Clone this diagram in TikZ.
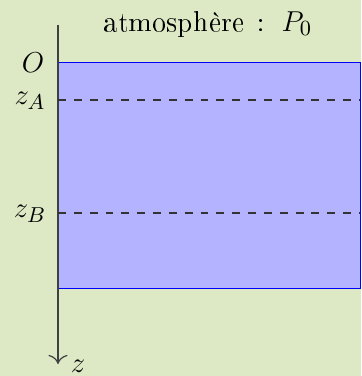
\documentclass[tikz,border=0pt]{standalone}
\usepackage[T1]{fontenc}
\usetikzlibrary{arrows.meta}
\definecolor{bgc}{RGB}{221,233,197}
\definecolor{fluid}{RGB}{179,179,255}
\begin{document}
\begin{tikzpicture}[x=0.4167pt,y=-0.4167pt,
  every node/.style={font=\fontsize{12.3}{15}\selectfont},
  lbl/.style={inner sep=0pt},
  lvl/.style={dash pattern=on 3.3pt off 3.3pt,black!80,line width=0.5pt}]
\fill[bgc] (0,0) rectangle (361,376);
\useasboundingbox (0,0) rectangle (361,376);
\node[draw=blue,fill=fluid,line width=0.6pt,minimum width=302*0.4167pt,minimum height=226*0.4167pt,inner sep=0pt,anchor=north west] (liq) at (58,62) {};
\coordinate (top) at (58,25);
\coordinate (bot) at (58,364);
\draw[-{To[scale=1.4]},black!75,line width=0.5pt] (top) -- (bot);
\node[lbl] (z) at (78,366) {$z$};
\node[lbl] (atm) at (208,24) {atmosphère\hspace{5pt}:\hspace{7pt}$P_0$};
\node[lbl] (O) at (33,63) {$O$};
\coordinate (a1) at (58,100);
\coordinate (a2) at (360,100);
\coordinate (b1) at (58,213);
\coordinate (b2) at (360,213);
\draw[lvl] (a1) -- (a2);
\draw[lvl] (b1) -- (b2);
\node[lbl] (zA) at (30,101) {$z_A$};
\node[lbl] (zB) at (30,214) {$z_B$};
\end{tikzpicture}
\end{document}
